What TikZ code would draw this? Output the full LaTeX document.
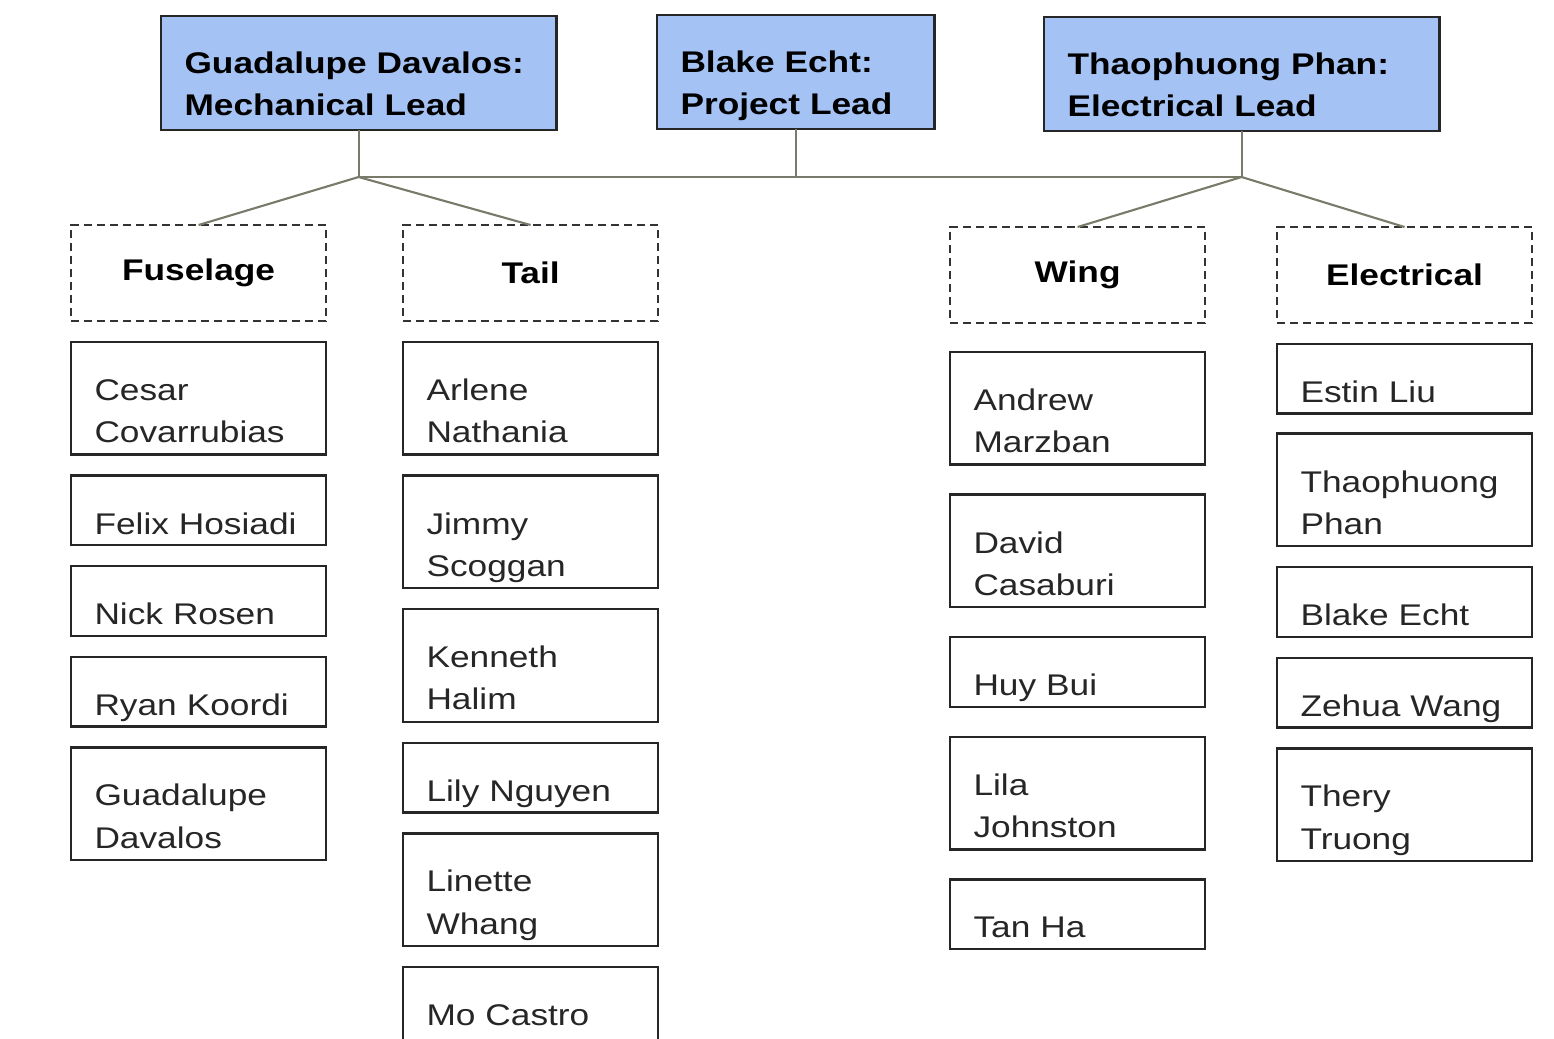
\documentclass[tikz,border=0pt]{standalone}
\usepackage{fontspec}
\setmainfont{Liberation Sans}[FakeStretch=1.18]
\usetikzlibrary{positioning}
\definecolor{leadblue}{RGB}{164,194,244}
\definecolor{linkgray}{RGB}{122,122,106}
\newcommand{\orgfont}{\fontsize{8.5}{12}\selectfont}
\tikzset{lead/.style   = {rectangle, draw=black!85, fill=leadblue, line width=0.8pt, font=\orgfont\bfseries,
		align=left, inner xsep=0.235cm, inner ysep=0pt, outer sep=0pt, text height=0.57cm, text depth=0.57cm},
	group/.style  = {rectangle, draw=black!80, dash pattern=on 2.3pt off 1.4pt, line width=0.7pt, outer sep=0pt,
		minimum width=2.55cm, minimum height=0.96cm, font=\orgfont\bfseries},
	member/.style = {rectangle, draw=black!85, line width=0.7pt, text=black!85, text width=2.08cm, outer sep=0pt,
		align=left, inner xsep=0.235cm, inner ysep=0pt, text height=0.585cm, text depth=0.11cm},
	twoline/.style = {member, text depth=0.54cm},
	link/.style   = {draw=linkgray, line width=0.6pt}
}
\begin{document}
\begin{tikzpicture}[x=0.01cm, y=-0.01cm, node distance=0.21cm, font=\orgfont]
		\useasboundingbox (0,0) rectangle (1554,1038);
		\clip (0,0) rectangle (1554,1038);
		%% leads
		\node [lead, text width=3.48cm, anchor=north west] (mech) at (161,16) {Guadalupe Davalos:\\Mechanical Lead};
		\node [lead, text width=2.30cm, anchor=north west] (proj) at (657,15) {Blake Echt:\\Project Lead};
		\node [lead, text width=3.48cm, anchor=north west] (elead) at (1044,17) {Thaophuong Phan:\\Electrical Lead};
		%% sub teams
		\node [group, anchor=north west] (fus) at (71,225) {Fuselage};
		\node [group, anchor=north west] (tail) at (403,225) {Tail};
		\node [group, anchor=north west] (wing) at (950,227) {Wing};
		\node [group, anchor=north west] (elec) at (1277,227) {Electrical};
		%% fuselage
		\node [twoline, below=of fus] (f1) {Cesar\\Covarrubias};
		\node [member, below=of f1] (f2) {Felix Hosiadi};
		\node [member, below=of f2] (f3) {Nick Rosen};
		\node [member, below=of f3] (f4) {Ryan Koordi};
		\node [twoline, below=of f4] (f5) {Guadalupe\\Davalos};
		%% tail
		\node [twoline, below=of tail] (t1) {Arlene\\Nathania};
		\node [twoline, below=of t1] (t2) {Jimmy\\Scoggan};
		\node [twoline, below=of t2] (t3) {Kenneth\\Halim};
		\node [member, below=of t3] (t4) {Lily Nguyen};
		\node [twoline, below=of t4] (t5) {Linette\\Whang};
		\node [member, text depth=0.2cm, below=of t5] (t6) {Mo Castro};
		%% wing
		\node [twoline, below=0.29cm of wing] (w1) {Andrew\\Marzban};
		\node [twoline, below=0.3cm of w1] (w2) {David\\Casaburi};
		\node [member, below=0.3cm of w2] (w3) {Huy Bui};
		\node [twoline, below=0.3cm of w3] (w4) {Lila\\Johnston};
		\node [member, below=0.3cm of w4] (w5) {Tan Ha};
		%% electrical
		\node [member, below=of elec] (e1) {Estin Liu};
		\node [twoline, below=0.2cm of e1] (e2) {Thaophuong\\Phan};
		\node [member, below=of e2] (e3) {Blake Echt};
		\node [member, below=of e3] (e4) {Zehua Wang};
		\node [twoline, below=of e4] (e5) {Thery\\Truong};
		%% tree lines
		\coordinate (spine) at (0,177);
		\coordinate (jm) at (mech.south |- spine);
		\coordinate (jp) at (proj.south |- spine);
		\coordinate (je) at (elead.south |- spine);
		\path [link] (mech.south) -- (jm);
		\path [link] (proj.south) -- (jp);
		\path [link] (elead.south) -- (je);
		\path [link] (jm) -- (je);
		\path [link] (fus.north) -- (jm) -- (tail.north);
		\path [link] (wing.north) -- (je) -- (elec.north);
	\end{tikzpicture}
\end{document}
